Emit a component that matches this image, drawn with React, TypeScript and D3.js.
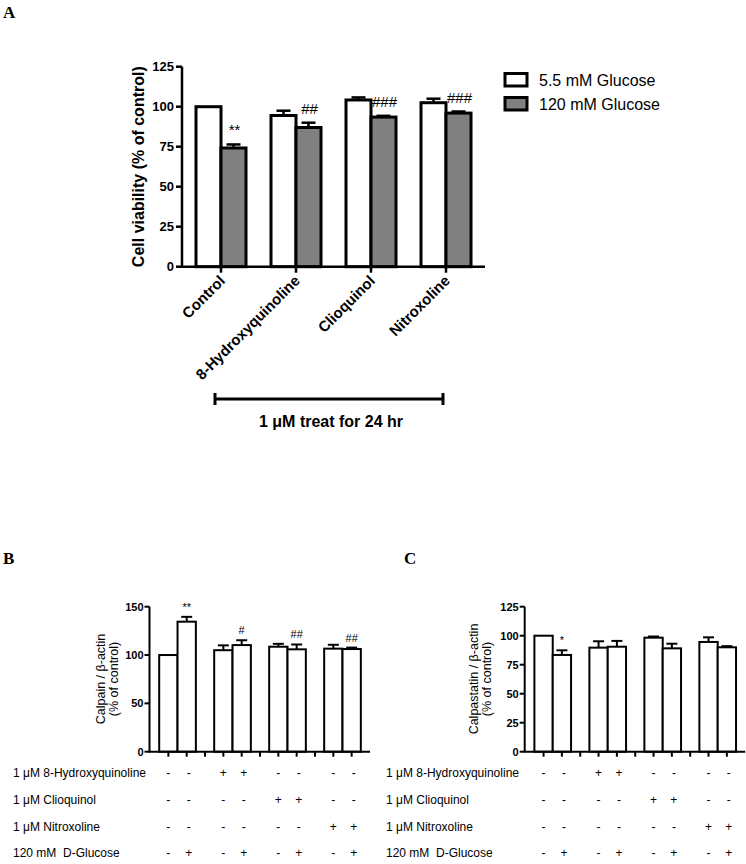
import React from 'react';
import * as d3 from 'd3';

// ---------- Panel A data ----------
const groupsA = ['Control', '8-Hydroxyquinoline', 'Clioquinol', 'Nitroxoline'];
const seriesA = ['5.5 mM Glucose', '120 mM Glucose'];
const normalA = [100, 94.5, 104.2, 102.5];
const normalErrA = [0, 3, 1.6, 2.5];
const highA = [74.2, 87, 93.5, 96];
const highErrA = [2.2, 3, 0.8, 1];
const sigA = ['**', '##', '###', '###'];
const ticksA = [0, 25, 50, 75, 100, 125];

// ---------- Panel B / C data ----------
const calpain = [100, 134.5, 105, 110.3, 108.6, 105.9, 106.6, 106.2];
const calpainErr = [0, 5, 5, 5, 3, 5, 4, 1.5];
const calpainSig = ['', '**', '', '#', '', '##', '', '##'];
const ticksB = [0, 50, 100, 150];

const calpastatin = [100, 83.4, 89.7, 90.5, 98.3, 89.1, 94.6, 90];
const calpastatinErr = [0, 4, 5.5, 5, 1, 4, 4, 1];
const calpastatinSig = ['', '*', '', '', '', '', '', ''];
const ticksC = [0, 25, 50, 75, 100, 125];

const tableRows = ['1 μM 8-Hydroxyquinoline', '1 μM Clioquinol', '1 μM Nitroxoline', '120 mM  D-Glucose'];
const tableMarks = [
  ['-', '-', '+', '+', '-', '-', '-', '-'],
  ['-', '-', '-', '-', '+', '+', '-', '-'],
  ['-', '-', '-', '-', '-', '-', '+', '+'],
  ['-', '+', '-', '+', '-', '+', '-', '+'],
];

const SANS = '"Liberation Sans", Arial, Helvetica, sans-serif';
const SERIF = '"Liberation Serif", "Times New Roman", serif';

function PanelA() {
  const y = d3.scaleLinear().domain([0, 125]).range([266.7, 66.7]);
  const x = d3.scaleBand<string>().domain(groupsA).range([183.5, 483.5]).paddingInner(0).paddingOuter(0);
  const bw = 25;
  const axX0 = 182;
  const axX1 = 485;
  const cap = 7;
  return (
    <g>
      <text x={3} y={18} fontFamily={SERIF} fontWeight="bold" fontSize={17}>A</text>
      {groupsA.map((g, i) => {
        const c = (x(g) as number) + x.bandwidth() / 2;
        const yN = y(normalA[i]);
        const yH = y(highA[i]);
        const yNe = y(normalA[i] + normalErrA[i]);
        const yHe = y(highA[i] + highErrA[i]);
        return (
          <g key={g}>
            {normalErrA[i] > 0 && (
              <g stroke="#000" strokeWidth={2.5}>
                <line x1={c - bw / 2} x2={c - bw / 2} y1={yN} y2={yNe} />
                <line x1={c - bw / 2 - cap} x2={c - bw / 2 + cap} y1={yNe} y2={yNe} />
              </g>
            )}
            {highErrA[i] > 0 && (
              <g stroke="#000" strokeWidth={2.5}>
                <line x1={c + bw / 2} x2={c + bw / 2} y1={yH} y2={yHe} />
                <line x1={c + bw / 2 - cap} x2={c + bw / 2 + cap} y1={yHe} y2={yHe} />
              </g>
            )}
            <rect x={c - bw} y={yN} width={bw} height={y(0) - yN} fill="#fff" stroke="#000" strokeWidth={3} />
            <rect x={c} y={yH} width={bw} height={y(0) - yH} fill="#808080" stroke="#000" strokeWidth={3} />
            <text x={c + bw / 2 + 1} y={yHe - 9} textAnchor="middle" fontFamily={SANS} fontSize={15}>{sigA[i]}</text>
            <line x1={c} x2={c} y1={y(0)} y2={y(0) + 6} stroke="#000" strokeWidth={2.5} />
            <text
              transform={`translate(${c + 5},${y(0) + 15}) rotate(-45)`}
              textAnchor="end"
              fontFamily={SANS}
              fontWeight="bold"
              fontSize={15}
            >
              {g}
            </text>
          </g>
        );
      })}
      {/* axes */}
      <line x1={axX0} x2={axX0} y1={y(125)} y2={y(0)} stroke="#000" strokeWidth={2.5} />
      <line x1={axX0 - 1.25} x2={axX1} y1={y(0)} y2={y(0)} stroke="#000" strokeWidth={2.5} />
      {ticksA.map((t) => (
        <g key={t}>
          <line x1={axX0 - 6} x2={axX0} y1={y(t)} y2={y(t)} stroke="#000" strokeWidth={2.5} />
          <text x={axX0 - 8} y={y(t)} dy="0.36em" textAnchor="end" fontFamily={SANS} fontWeight="bold" fontSize={13}>{t}</text>
        </g>
      ))}
      <text
        transform={`translate(144,${(y(0) + y(125)) / 2}) rotate(-90)`}
        textAnchor="middle"
        fontFamily={SANS}
        fontWeight="bold"
        fontSize={16}
      >
        Cell viability (% of control)
      </text>
      {/* legend */}
      {seriesA.map((s, i) => (
        <g key={s}>
          <rect x={505} y={73.5 + i * 24} width={22} height={12.5} fill={i === 0 ? '#fff' : '#808080'} stroke="#000" strokeWidth={3} />
          <text x={539} y={86 + i * 24} fontFamily={SANS} fontSize={16}>{s}</text>
        </g>
      ))}
      {/* treatment bracket */}
      <g stroke="#000" strokeWidth={3}>
        <line x1={215} x2={443} y1={399} y2={399} />
        <line x1={215} x2={215} y1={393} y2={405} />
        <line x1={443} x2={443} y1={393} y2={405} />
      </g>
      <text x={331} y={427} textAnchor="middle" fontFamily={SANS} fontWeight="bold" fontSize={16}>
        1 μM treat for 24 hr
      </text>
    </g>
  );
}

function PanelBC(props: {
  letter: string;
  letterX: number;
  axisX: number;
  yMax: number;
  ticks: number[];
  values: number[];
  errs: number[];
  sig: string[];
  label1: string;
  labelX: number;
  tableX: number;
}) {
  const { letter, letterX, axisX, yMax, ticks, values, errs, sig, label1, labelX, tableX } = props;
  const y = d3.scaleLinear().domain([0, yMax]).range([751.7, 606.7]);
  const slots = d3.range(11);
  const step = 18.33;
  const x0 = axisX + 9.7;
  const xs = d3.scaleBand<number>().domain(slots).range([x0, x0 + step * 11]).paddingInner(0).paddingOuter(0);
  const axEnd = axisX + 220.5;
  const slotOf = (i: number) => Math.floor(i / 2) * 3 + (i % 2);
  const cap = 5.5;
  const rowY = [777, 804, 830.5, 857];
  return (
    <g>
      <text x={letterX} y={564} fontFamily={SERIF} fontWeight="bold" fontSize={17}>{letter}</text>
      {values.map((v, i) => {
        const s = slotOf(i);
        const left = xs(s) as number;
        const c = left + xs.bandwidth() / 2;
        const yv = y(v);
        const ye = y(v + errs[i]);
        return (
          <g key={i}>
            {errs[i] > 0 && (
              <g stroke="#000" strokeWidth={2}>
                <line x1={c} x2={c} y1={yv} y2={ye} />
                <line x1={c - cap} x2={c + cap} y1={ye} y2={ye} />
              </g>
            )}
            <rect x={left} y={yv} width={xs.bandwidth()} height={y(0) - yv} fill="#fff" stroke="#000" strokeWidth={2} />
            {sig[i] && (
              <text x={c} y={ye - 6} textAnchor="middle" fontFamily={SANS} fontSize={11}>{sig[i]}</text>
            )}
          </g>
        );
      })}
      <line x1={axisX} x2={axisX} y1={y(yMax)} y2={y(0)} stroke="#000" strokeWidth={2} />
      <line x1={axisX - 1} x2={axEnd} y1={y(0)} y2={y(0)} stroke="#000" strokeWidth={2} />
      {ticks.map((t) => (
        <g key={t}>
          <line x1={axisX - 5} x2={axisX} y1={y(t)} y2={y(t)} stroke="#000" strokeWidth={2} />
          <text x={axisX - 6} y={y(t)} dy="0.36em" textAnchor="end" fontFamily={SANS} fontWeight="bold" fontSize={11}>{t}</text>
        </g>
      ))}
      {slots.map((s) => {
        const c = (xs(s) as number) + xs.bandwidth() / 2;
        return <line key={s} x1={c} x2={c} y1={y(0)} y2={y(0) + 5} stroke="#000" strokeWidth={2} />;
      })}
      <text
        transform={`translate(${labelX},679) rotate(-90)`}
        textAnchor="middle"
        fontFamily={SANS}
        fontSize={12.5}
      >
        <tspan x={0} dy={0}>{label1}</tspan>
        <tspan x={0} dy={13}>(% of control)</tspan>
      </text>
      {tableRows.map((r, ri) => (
        <g key={r}>
          <text x={tableX} y={rowY[ri]} fontFamily={SANS} fontSize={12} style={{ whiteSpace: 'pre' }}>{r}</text>
          {tableMarks[ri].map((m, mi) => {
            const s = slotOf(mi);
            const c = (xs(s) as number) + xs.bandwidth() / 2 + (mi % 2 === 1 ? 2 : 0);
            return (
              <text key={mi} x={c} y={rowY[ri]} textAnchor="middle" fontFamily={SANS} fontSize={12}>{m}</text>
            );
          })}
        </g>
      ))}
    </g>
  );
}

export default function App() {
  return (
    <svg
      width={746}
      height={864}
      viewBox="0 0 746 864"
      style={{ position: 'absolute', left: 0, top: 0, background: '#fff' }}
    >
      <rect x={0} y={0} width={746} height={864} fill="#fff" />
      <PanelA />
      <PanelBC
        letter="B"
        letterX={3}
        axisX={149.5}
        yMax={150}
        ticks={ticksB}
        values={calpain}
        errs={calpainErr}
        sig={calpainSig}
        label1="Calpain / β-actin"
        labelX={105}
        tableX={13}
      />
      <PanelBC
        letter="C"
        letterX={404}
        axisX={524.7}
        yMax={125}
        ticks={ticksC}
        values={calpastatin}
        errs={calpastatinErr}
        sig={calpastatinSig}
        label1="Calpastatin / β-actin"
        labelX={478}
        tableX={386}
      />
    </svg>
  );
}
